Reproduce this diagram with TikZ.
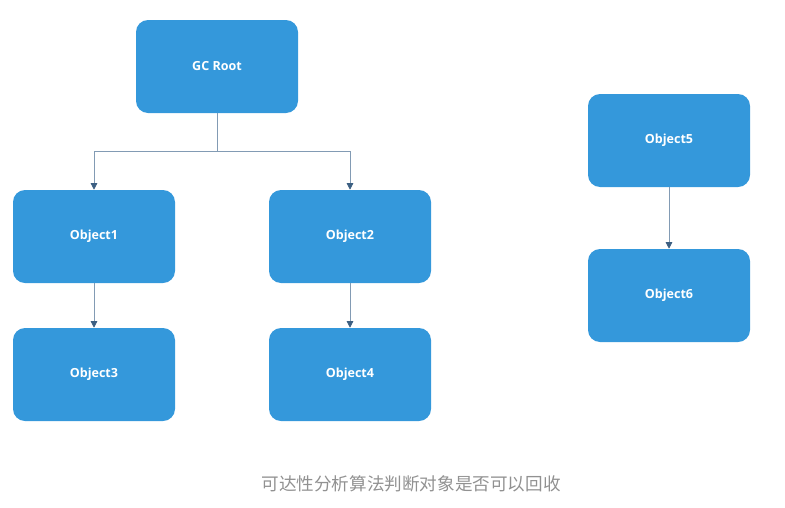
\documentclass[tikz,border=0pt]{standalone}
\usepackage{fontspec}
\setmainfont{Open Sans}
\newfontfamily\cjk{Noto Sans CJK SC}
\usetikzlibrary{arrows.meta}

\definecolor{boxblue}{RGB}{52,152,219}
\definecolor{linegray}{RGB}{130,155,180}
\definecolor{tipblue}{RGB}{60,95,130}
\definecolor{capgray}{RGB}{145,145,145}

\tikzset{
  objbox/.style={fill=boxblue, rounded corners=9pt, minimum width=121.5pt,
    minimum height=69.75pt, text=white, font=\bfseries\fontsize{9.4}{11}\selectfont},
  link/.style={draw=linegray, line width=0.6pt,
    -{Triangle[width=5pt,length=5pt,color=tipblue]}},
}

\begin{document}
\begin{tikzpicture}[x=0.75pt,y=-0.75pt]
  \useasboundingbox (0,0) rectangle (785,507);

  \node[objbox] (root) at (217,66.5) {GC Root};

  \node[objbox] (obj1) at (94,236.5) {Object1};
  \node[objbox] (obj2) at (350,236.5) {Object2};
  \node[objbox] (obj3) at (94,374.5) {Object3};
  \node[objbox] (obj4) at (350,374.5) {Object4};

  \node[objbox] (obj5) at (669,140.5) {Object5};
  \node[objbox] (obj6) at (669,295.5) {Object6};

  % #######################################

  \coordinate (fork) at (217,151);
  \draw[draw=linegray, line width=0.6pt] (root.south) -- (fork);
  \draw[link] (fork) -| (obj1.north);
  \draw[link] (fork) -| (obj2.north);
  \draw[link] (obj1.south) -- (obj3.north);
  \draw[link] (obj2.south) -- (obj4.north);
  \draw[link] (obj5.south) -- (obj6.north);

  \node[text=capgray, font=\cjk\fontsize{13.2}{15}\selectfont] (caption) at (411,484)
    {可达性分析算法判断对象是否可以回收};

\end{tikzpicture}
\end{document}
